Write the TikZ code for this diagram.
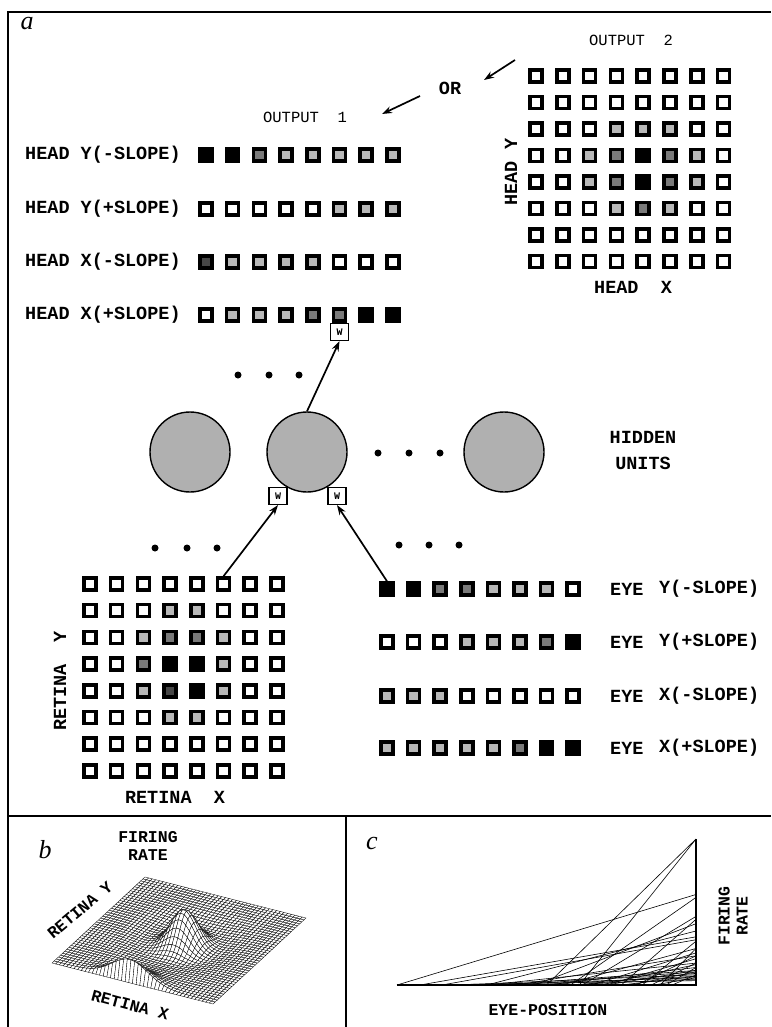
\documentclass[tikz,border=0pt]{standalone}
\usepackage{fontspec}
\setmainfont{Liberation Serif}
\newfontfamily\cour{Liberation Mono}
\usetikzlibrary{arrows.meta}
\definecolor{lv0}{gray}{1}
\definecolor{lv1}{gray}{0.72}
\definecolor{lv2}{gray}{0.48}
\definecolor{lv3}{gray}{0.28}
\definecolor{lv4}{gray}{0}
\newcommand\cellrow[5]{%
  \foreach \lv [count=\c] in {#5}
    \node[cell=\lv] (#1-\c) at ({#2+(\c-1)*#3},#4) {};}
\begin{document}
\begin{tikzpicture}[x=1pt,y=-1pt,
  cell/.style={draw=black,line width=3.5pt,minimum size=12pt,inner sep=0pt,fill=lv#1},
  lab/.style={font=\cour\bfseries\fontsize{18.5}{20}\selectfont,inner sep=0pt},
  olab/.style={font=\cour\fontsize{15.5}{17}\selectfont,inner sep=0pt},
  slab/.style={font=\cour\bfseries\fontsize{16.5}{18}\selectfont,inner sep=0pt,align=center},
  plab/.style={font=\itshape\fontsize{26}{26}\selectfont,inner sep=0pt},
  hid/.style={circle,draw=black,line width=1.4pt,fill=gray!62,minimum size=80pt,inner sep=0pt},
  dot/.style={circle,fill=black,minimum size=7pt,inner sep=0pt},
  wbox/.style={draw=black,line width=1.1pt,fill=white,minimum width=18pt,minimum height=17pt,inner sep=0pt,font=\cour\bfseries\fontsize{10}{10}\selectfont},
  conn/.style={line width=1.7pt,-{Stealth[length=10pt,width=7pt]}},
  frame/.style={line width=1.5pt},
  meshq/.style={fill=white,draw=black,line width=0.32pt},
  crv/.style={line width=0.6pt}]
\useasboundingbox (0,0) rectangle (771,1027);

% frame
\draw[frame] (8,1027) -- (8,12) -- (771,12);
\draw[frame] (8,816) -- (771,816);
\draw[frame] (346,816) -- (346,1027);

% panel a
\node[plab] (pa) at (27,24) {a};
\node[olab] (out2) at (631,40) {OUTPUT~~2};
\node[olab] (out1) at (305,117) {OUTPUT~~1};
\node[lab] (or) at (450,88) {OR};
\coordinate (oa1) at (515,60);
\coordinate (oa2) at (484,80);
\coordinate (ob1) at (420,96);
\coordinate (ob2) at (382,114);
\draw[conn] (oa1) -- (oa2);
\draw[conn] (ob1) -- (ob2);

% output 2 grid
\cellrow{g1}{536}{26.8}{76}{0,0,0,0,0,0,0,0}
\cellrow{g2}{536}{26.8}{102.5}{0,0,0,0,0,0,0,0}
\cellrow{g3}{536}{26.8}{129}{0,0,0,1,1,1,0,0}
\cellrow{g4}{536}{26.8}{155.5}{0,0,1,2,4,2,1,0}
\cellrow{g5}{536}{26.8}{182}{0,0,1,2,4,2,1,0}
\cellrow{g6}{536}{26.8}{208.5}{0,0,0,1,2,1,0,0}
\cellrow{g7}{536}{26.8}{235}{0,0,0,0,0,0,0,0}
\cellrow{g8}{536}{26.8}{261.5}{0,0,0,0,0,0,0,0}
\node[lab,rotate=90] (hy) at (511,172) {HEAD Y};
\node[lab] (hx) at (633,287) {HEAD~~X};

% output 1 rows
\node[lab,anchor=west] (l1) at (25,155) {HEAD Y(-SLOPE)};
\node[lab,anchor=west] (l2) at (25,209) {HEAD Y(+SLOPE)};
\node[lab,anchor=west] (l3) at (25,262) {HEAD X(-SLOPE)};
\node[lab,anchor=west] (l4) at (25,315) {HEAD X(+SLOPE)};
\cellrow{o1}{206}{26.7}{155}{4,4,2,1,1,1,1,1}
\cellrow{o2}{206}{26.7}{209}{0,0,0,0,0,1,1,1}
\cellrow{o3}{206}{26.7}{262}{3,1,1,1,1,0,0,0}
\cellrow{o4}{206}{26.7}{315}{0,1,1,1,2,2,4,4}
\node[wbox] (w0) at (339.5,332) {W};

% hidden units
\node[dot] (d1) at (238,375) {};
\node[dot] (d2) at (269,375) {};
\node[dot] (d3) at (299,375) {};
\node[hid] (h1) at (190,452) {};
\node[hid] (h2) at (307,452) {};
\node[hid] (h3) at (504,452) {};
\node[dot] (d4) at (378,453) {};
\node[dot] (d5) at (409,453) {};
\node[dot] (d6) at (440,453) {};
\node[lab] (hidden) at (643,437) {HIDDEN};
\node[lab] (units) at (643,463) {UNITS};
\node[wbox] (wl) at (278,496) {W};
\node[wbox] (wr) at (337,496) {W};
\draw[conn] (h2.north) -- (w0.south);

% retina
\node[dot] (d7) at (155,548) {};
\node[dot] (d8) at (187,548) {};
\node[dot] (d9) at (217,548) {};
\cellrow{r1}{90}{26.7}{584}{0,0,0,0,0,0,0,0}
\cellrow{r2}{90}{26.7}{610.7}{0,0,0,1,1,0,0,0}
\cellrow{r3}{90}{26.7}{637.4}{0,0,1,2,2,1,0,0}
\cellrow{r4}{90}{26.7}{664.1}{0,0,2,4,4,1,0,0}
\cellrow{r5}{90}{26.7}{690.8}{0,0,1,3,4,1,0,0}
\cellrow{r6}{90}{26.7}{717.5}{0,0,0,1,1,0,0,0}
\cellrow{r7}{90}{26.7}{744.2}{0,0,0,0,0,0,0,0}
\cellrow{r8}{90}{26.7}{770.9}{0,0,0,0,0,0,0,0}
\node[lab,rotate=90] (ry) at (60,681) {RETINA~~Y};
\node[lab] (rx) at (175,797) {RETINA~~X};

% eye
\node[dot] (d10) at (399,545) {};
\node[dot] (d11) at (429,545) {};
\node[dot] (d12) at (459,545) {};
\cellrow{e1}{387}{26.6}{589}{4,4,2,2,1,1,1,0}
\cellrow{e2}{387}{26.6}{642}{0,0,0,1,1,1,2,4}
\cellrow{e3}{387}{26.6}{696}{1,1,1,0,0,0,0,0}
\cellrow{e4}{387}{26.6}{748}{1,1,1,1,1,2,4,4}
\node[lab,anchor=west] (ea1) at (610,589) {EYE};
\node[lab,anchor=west] (eb1) at (659,589) {Y(-SLOPE)};
\node[lab,anchor=west] (ea2) at (610,642) {EYE};
\node[lab,anchor=west] (eb2) at (659,642) {Y(+SLOPE)};
\node[lab,anchor=west] (ea3) at (610,696) {EYE};
\node[lab,anchor=west] (eb3) at (659,696) {X(-SLOPE)};
\node[lab,anchor=west] (ea4) at (610,748) {EYE};
\node[lab,anchor=west] (eb4) at (659,748) {X(+SLOPE)};

\draw[conn] (r1-6.north) -- (wl.south);
\draw[conn] (e1-1.north) -- (wr.south);

% panel b
\node[plab] (pb) at (45,850) {b};
\node[slab] (fr) at (148,846) {FIRING\\RATE};
\foreach \i in {0,...,44} {
  \foreach \j in {0,...,44} {
    \pgfmathsetmacro\uu{\i/44}
    \pgfmathsetmacro\vv{\j/44}
    \pgfmathsetmacro\rr{(\uu-0.53)*(\uu-0.53)+(\vv-0.5)*(\vv-0.5)}
    \pgfmathsetmacro\hh{42*exp(-min(\rr/0.012,30))-10*exp(-min(\rr/0.05,30))+(\j>0)*22*exp(-min((\uu-0.47)*(\uu-0.47)/0.025,30))*exp(-min(\vv*\vv/0.010,30))}
    \coordinate (m-\i-\j) at ({52+161*\uu+93*\vv},{963+41*\uu-86*\vv-\hh});
  }
}
\foreach \j in {43,...,0} {
  \foreach \i in {0,...,43} {
    \pgfmathtruncatemacro\ii{\i+1}
    \pgfmathtruncatemacro\jj{\j+1}
    \filldraw[meshq] (m-\i-\j) -- (m-\ii-\j) -- (m-\ii-\jj) -- (m-\i-\jj) -- cycle;
  }
}
\node[slab,rotate=40] (bry) at (80,910) {RETINA Y};
\node[slab,rotate=-15] (brx) at (130,1005) {RETINA X};

% panel c
\node[plab] (pc) at (372,843) {c};
\foreach \s/\e in {0/0.62,0.5/1,0.61/1,0.077/0.33,0.15/0.31,0.58/0.6,0.62/0.47,0.3/0.37,0.46/0.42,0.75/0.45,0.55/0.25,0.4/0.2,0.3/0.15,0.65/0.22,0.7/0.18,0.8/0.2,0.85/0.15,0.5/0.12,0.35/0.1,0.6/0.08,0.7/0.1,0.9/0.12,0.2/0.07,0.45/0.06,0.75/0.06,0.82/0.3,0.88/0.25,0.92/0.07,0.25/0.05,0.55/0.04,0.1/0.03,0.68/0.14,0.78/0.09,0.86/0.05,0.4/0.09}
  \draw[crv] ({397+299*\s},985) -- (696,{985-146*\e});
\draw[line width=1.2pt] (397,985) -- (696,985) -- (696,839);
\node[slab] (ep) at (548,1010) {EYE-POSITION};
\node[slab,rotate=90] (cfr) at (733,916) {FIRING\\RATE};
\end{tikzpicture}
\end{document}
